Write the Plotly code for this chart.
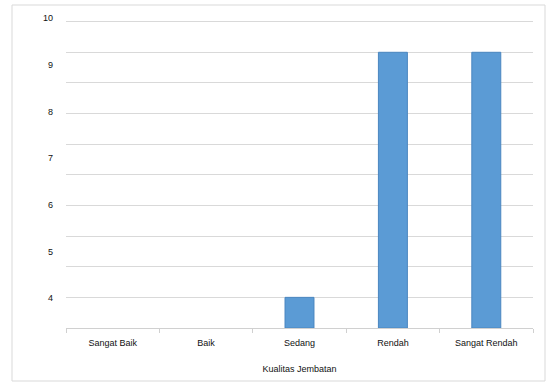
import plotly.graph_objects as go

categories = ["Sangat Baik", "Baik", "Sedang", "Rendah", "Sangat Rendah"]
values = [0, 0, 1, 9, 9]
tick_labels = [4, 5, 6, 7, 8, 9, 10]
x_title = "Kualitas Jembatan"

W, H = 555, 382
L, R, T, B = 66, 22, 14, 54

fig = go.Figure()
fig.add_trace(go.Bar(
    x=categories, y=values, yaxis="y2",
    marker=dict(color="#5b9bd5",
                line=dict(color="#4a86c0", width=[1 if v > 0 else 0 for v in values])),
    width=0.31, showlegend=False,
))
# invisible trace to anchor the label axis
fig.add_trace(go.Scatter(x=[categories[0]], y=[tick_labels[0]], yaxis="y",
                         mode="markers", marker=dict(opacity=0), showlegend=False,
                         hoverinfo="skip"))

font = dict(family="Liberation Sans, Arial, sans-serif", size=9, color="#111")

fig.update_layout(
    width=W, height=H,
    margin=dict(l=L, r=R, t=T, b=B, autoexpand=False),
    paper_bgcolor="white", plot_bgcolor="white",
    font=font,
    bargap=0.69,
    xaxis=dict(
        type="category", categoryorder="array", categoryarray=categories,
        showline=True, linecolor="#d0d0d0", linewidth=1,
        ticks="outside", tickson="boundaries", ticklen=4, tickcolor="#d0d0d0",
        showgrid=False, zeroline=False, automargin=False,
        title=dict(text=x_title, font=font, standoff=18),
        tickfont=font, ticklabelstandoff=6,
    ),
    yaxis=dict(
        range=[3.364, 10.092], automargin=False,
        tickvals=tick_labels, ticktext=[str(v) for v in tick_labels],
        showgrid=False, zeroline=False, showline=False, ticks="",
        tickfont=font, ticklabelstandoff=12,
    ),
    yaxis2=dict(
        range=[0, 10.25], overlaying="y", side="left", automargin=False,
        dtick=1, showgrid=True, gridcolor="#d9d9d9", gridwidth=1,
        showticklabels=False, zeroline=False, showline=False, ticks="",
    ),
    shapes=[dict(
        type="rect", xref="paper", yref="paper",
        x0=(12 - L) / (W - L - R), x1=(545 - L) / (W - L - R),
        y0=(H - B - 381) / (H - T - B), y1=(H - B - 5) / (H - T - B),
        line=dict(color="#d9d9d9", width=1), layer="below",
    )],
)

fig.write_html("out.html")
